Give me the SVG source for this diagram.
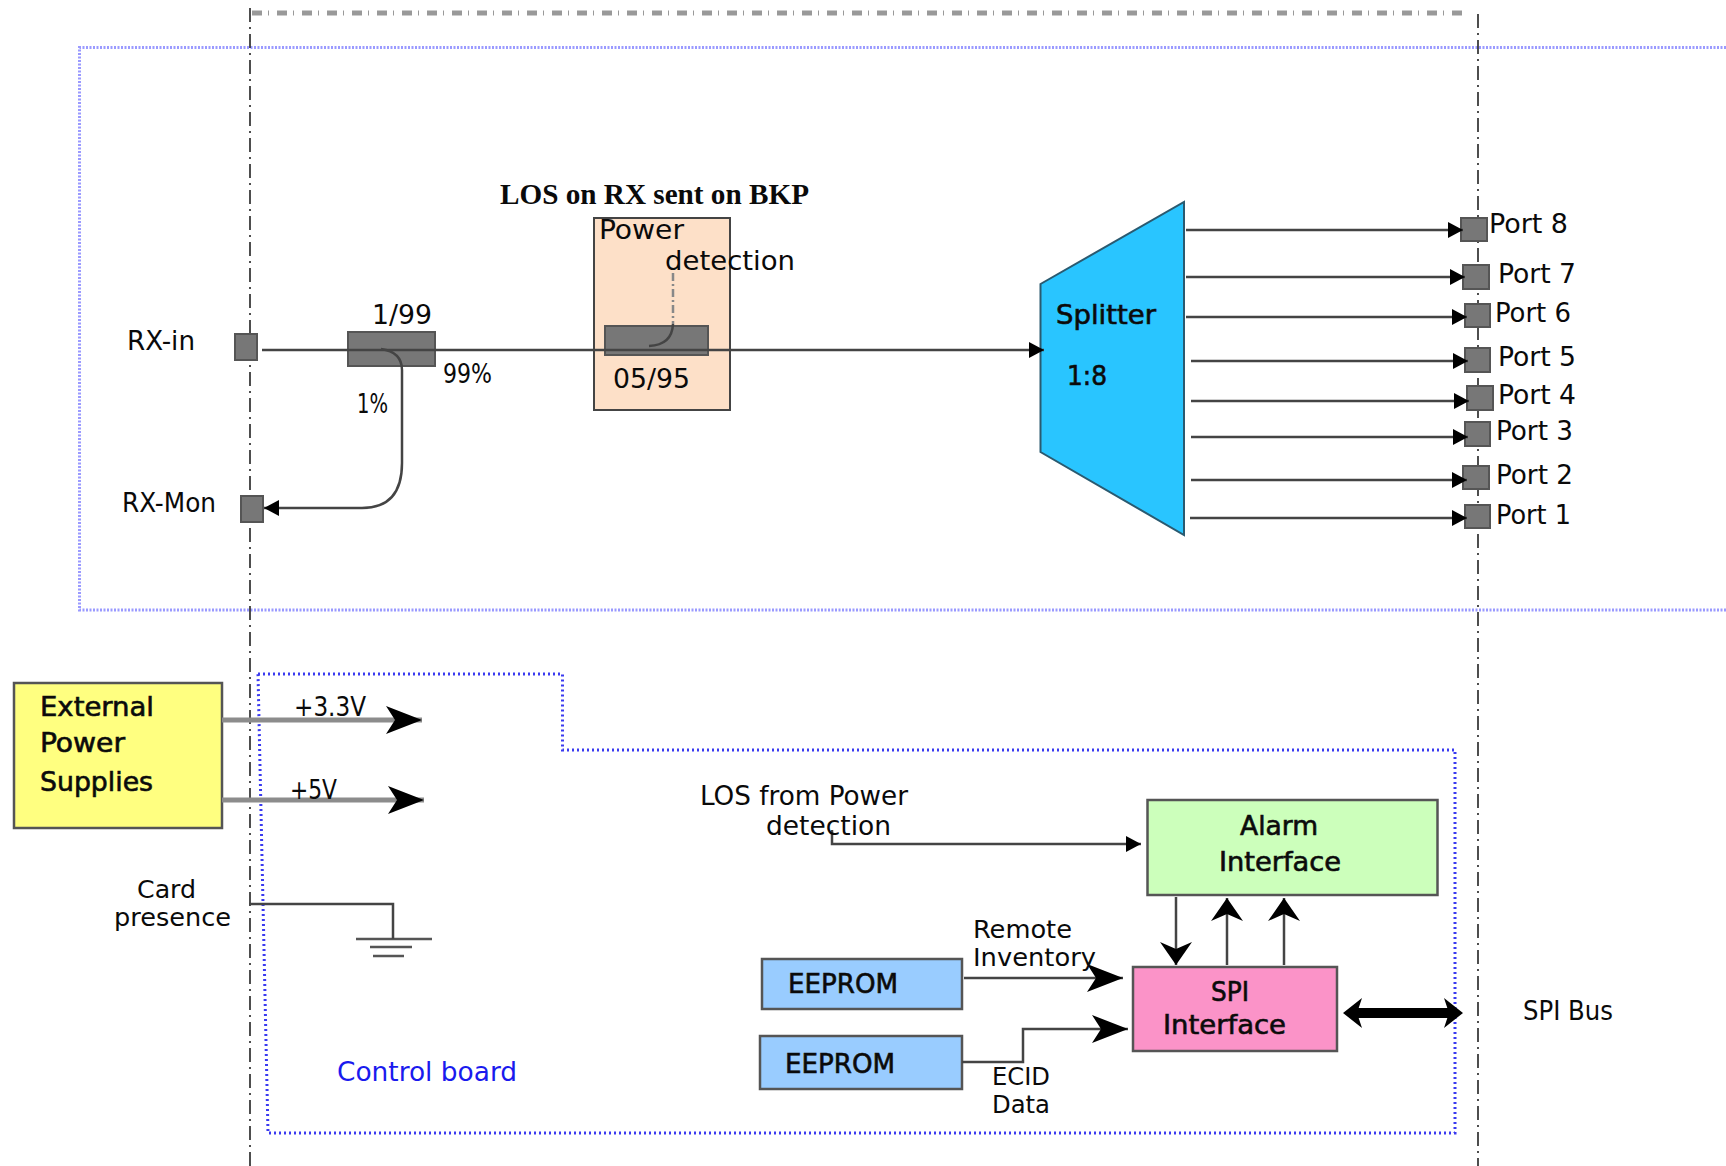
<svg xmlns="http://www.w3.org/2000/svg" width="1726" height="1166" viewBox="0 0 1726 1166">
<style>
text{font-family:"DejaVu Sans","Liberation Sans",sans-serif;font-size:27px;fill:#0a0a0a;font-stretch:condensed}
.b{stroke:#111;stroke-width:.6px}
.n{font-size:24px}
.s{font-family:"Liberation Serif",serif;font-weight:bold;font-size:29px;font-stretch:normal}
.blue{fill:#1a1aee}
.v{fill:none;stroke:#222;stroke-width:1.6;stroke-dasharray:14 5 2 5}
.sq{fill:#777;stroke:#555;stroke-width:2}
.l{fill:none;stroke:#444;stroke-width:2.5}
.t{fill:none;stroke:#8c8c8c;stroke-width:5}
.box{stroke:#555;stroke-width:2.5}
</style>
<defs>
<marker id="tri" markerUnits="userSpaceOnUse" markerWidth="16" markerHeight="18" refX="15" refY="9" orient="auto"><path d="M0 1L15 9L0 17Z" fill="#000"/></marker>
<marker id="st" markerUnits="userSpaceOnUse" markerWidth="38" markerHeight="30" refX="36" refY="15" orient="auto"><path d="M0 1L36 15L0 29L9 15Z" fill="#000"/></marker>
<marker id="st2" markerUnits="userSpaceOnUse" markerWidth="24" markerHeight="34" refX="23" refY="17" orient="auto"><path d="M0 1L23 17L0 33L7 17Z" fill="#000"/></marker>
</defs>

<g id="frames">
<path d="M252 13H1464" fill="none" stroke="#999" stroke-width="5" stroke-dasharray="10 6 1 8"/>
<path d="M1726 47.5H79.5V610H1726" fill="none" stroke="#9a9aff" stroke-width="3" stroke-dasharray="2 1.5"/>
<path d="M258 674H562.5V750H1455V1133H268Z" fill="none" stroke="#3a3af0" stroke-width="3" stroke-dasharray="2 3"/>
<path class="v" d="M250 8V1166"/>
<path class="v" d="M1478 14V1166"/>
</g>

<g id="power-detection">
<rect x="594" y="218" width="136" height="192" fill="#fde0c8" stroke="#444" stroke-width="2"/>
<rect x="605" y="326" width="103" height="29" class="sq"/>
<text x="599" y="239" textLength="85" lengthAdjust="spacingAndGlyphs">Power</text>
<text x="665" y="270" textLength="130" lengthAdjust="spacingAndGlyphs">detection</text>
<text x="613" y="388" textLength="77" lengthAdjust="spacingAndGlyphs">05/95</text>
</g>
<g id="los-label"><text class="s" x="500" y="204" textLength="309" lengthAdjust="spacingAndGlyphs">LOS on RX sent on BKP</text></g>

<g id="rx-in"><rect x="235" y="334" width="22" height="26" class="sq"/><text x="127" y="350" textLength="68" lengthAdjust="spacingAndGlyphs">RX-in</text></g>
<g id="rx-mon"><rect x="241" y="496" width="22" height="26" class="sq"/><text x="122" y="512" textLength="94" lengthAdjust="spacingAndGlyphs">RX-Mon</text></g>
<g id="coupler"><rect x="348" y="332" width="87" height="34" class="sq"/>
<text x="372" y="324" textLength="60" lengthAdjust="spacingAndGlyphs">1/99</text>
<text x="443" y="383" textLength="49" lengthAdjust="spacingAndGlyphs">99%</text>
<text x="357" y="413" textLength="31" lengthAdjust="spacingAndGlyphs">1%</text></g>

<g id="splitter"><path d="M1040.5 284L1184 202V535L1040.5 452Z" fill="#29c5ff" stroke="#2a5a70" stroke-width="2"/>
<text class="b" x="1056" y="324" textLength="100" lengthAdjust="spacingAndGlyphs">Splitter</text>
<text class="b" x="1067" y="385" textLength="40" lengthAdjust="spacingAndGlyphs">1:8</text></g>

<g id="port-8"><rect x="1461" y="218" width="26" height="23" class="sq"/><text x="1489" y="233" textLength="79" lengthAdjust="spacingAndGlyphs">Port 8</text></g>
<g id="port-7"><rect x="1463" y="265" width="26" height="24" class="sq"/><text x="1498" y="283" textLength="78" lengthAdjust="spacingAndGlyphs">Port 7</text></g>
<g id="port-6"><rect x="1465" y="304" width="25" height="23" class="sq"/><text x="1495" y="322" textLength="76" lengthAdjust="spacingAndGlyphs">Port 6</text></g>
<g id="port-5"><rect x="1465" y="348" width="25" height="24" class="sq"/><text x="1498" y="366" textLength="78" lengthAdjust="spacingAndGlyphs">Port 5</text></g>
<g id="port-4"><rect x="1467" y="386" width="26" height="24" class="sq"/><text x="1498" y="404" textLength="78" lengthAdjust="spacingAndGlyphs">Port 4</text></g>
<g id="port-3"><rect x="1465" y="422" width="25" height="24" class="sq"/><text x="1496" y="440" textLength="77" lengthAdjust="spacingAndGlyphs">Port 3</text></g>
<g id="port-2"><rect x="1463" y="466" width="26" height="23" class="sq"/><text x="1496" y="484" textLength="77" lengthAdjust="spacingAndGlyphs">Port 2</text></g>
<g id="port-1"><rect x="1465" y="505" width="25" height="23" class="sq"/><text x="1496" y="524" textLength="75" lengthAdjust="spacingAndGlyphs">Port 1</text></g>

<g id="external-power"><rect x="14" y="683" width="208" height="145" fill="#ffff80" class="box"/>
<text class="b" x="40" y="716" textLength="114" lengthAdjust="spacingAndGlyphs">External</text>
<text class="b" x="40" y="752" textLength="85" lengthAdjust="spacingAndGlyphs">Power</text>
<text class="b" x="40" y="791" textLength="113" lengthAdjust="spacingAndGlyphs">Supplies</text></g>

<g id="card-presence">
<text class="n" x="137" y="898" textLength="59" lengthAdjust="spacingAndGlyphs">Card</text>
<text class="n" x="114" y="926" textLength="117" lengthAdjust="spacingAndGlyphs">presence</text>
<path d="M356 939H432M370 947H412M373 956H404" fill="none" stroke="#555" stroke-width="2.5"/>
</g>

<g id="control-board-label"><text class="blue" x="337" y="1081" textLength="180" lengthAdjust="spacingAndGlyphs">Control board</text></g>

<g id="alarm-interface"><rect x="1147.5" y="800" width="290" height="95" fill="#ccffbb" class="box"/>
<text class="b" x="1240" y="835" textLength="78" lengthAdjust="spacingAndGlyphs">Alarm</text>
<text class="b" x="1219" y="871" textLength="122" lengthAdjust="spacingAndGlyphs">Interface</text></g>
<g id="spi-interface"><rect x="1133" y="967" width="204" height="84" fill="#fb93c8" class="box"/>
<text class="b" x="1211" y="1001" textLength="38" lengthAdjust="spacingAndGlyphs">SPI</text>
<text class="b" x="1163" y="1034" textLength="123" lengthAdjust="spacingAndGlyphs">Interface</text></g>
<g id="eeprom-1"><rect x="762" y="959" width="200" height="50" fill="#99ccff" class="box"/><text class="b" x="788" y="993" textLength="110" lengthAdjust="spacingAndGlyphs">EEPROM</text></g>
<g id="eeprom-2"><rect x="760" y="1036" width="202" height="53" fill="#99ccff" class="box"/><text class="b" x="785" y="1073" textLength="110" lengthAdjust="spacingAndGlyphs">EEPROM</text></g>

<g id="connectors">
<path class="l" d="M262 350H1044" marker-end="url(#tri)"/>
<path class="l" d="M381 349Q402 352 402 370V463Q402 508 362 508H264" marker-end="url(#tri)"/>
<path d="M673 273V324" fill="none" stroke="#888" stroke-width="2.5" stroke-dasharray="8 3 2 3"/>
<path class="l" d="M673 324Q672 345 649 346"/>
<path class="l" d="M1186 230H1463" marker-end="url(#tri)"/>
<path class="l" d="M1186 277H1465" marker-end="url(#tri)"/>
<path class="l" d="M1186 317H1467" marker-end="url(#tri)"/>
<path class="l" d="M1191 361H1468" marker-end="url(#tri)"/>
<path class="l" d="M1191 401H1469" marker-end="url(#tri)"/>
<path class="l" d="M1191 437H1468" marker-end="url(#tri)"/>
<path class="l" d="M1191 480H1467" marker-end="url(#tri)"/>
<path class="l" d="M1190 518H1467" marker-end="url(#tri)"/>
<path class="t" d="M222 720H422" marker-end="url(#st)"/>
<path class="t" d="M222 800H424" marker-end="url(#st)"/>
<path class="l" d="M249 904H393V939"/>
<path class="l" d="M832 830V844H1141" marker-end="url(#tri)"/>
<path class="l" d="M1176 897V965" marker-end="url(#st2)"/>
<path class="l" d="M1227 965V898" marker-end="url(#st2)"/>
<path class="l" d="M1284 965V898" marker-end="url(#st2)"/>
<path class="l" d="M964 978H1123" marker-end="url(#st)"/>
<path class="l" d="M962 1062H1023V1029H1128" marker-end="url(#st)"/>
<path d="M1350 1013H1456" stroke="#000" stroke-width="10" fill="none"/>
<path d="M1343 1013L1362 998L1357 1013L1362 1028ZM1463 1013L1444 998L1449 1013L1444 1028Z" fill="#000"/>
</g>

<g id="labels">
<text x="294" y="716" textLength="72" lengthAdjust="spacingAndGlyphs">+3.3V</text>
<text x="290" y="799" textLength="47" lengthAdjust="spacingAndGlyphs">+5V</text>
<text x="700" y="805" textLength="208" lengthAdjust="spacingAndGlyphs">LOS from Power</text>
<text x="766" y="835" textLength="125" lengthAdjust="spacingAndGlyphs">detection</text>
<text class="n" x="973" y="938" textLength="99" lengthAdjust="spacingAndGlyphs">Remote</text>
<text class="n" x="973" y="966" textLength="123" lengthAdjust="spacingAndGlyphs">Inventory</text>
<text class="n" x="992" y="1085" textLength="58" lengthAdjust="spacingAndGlyphs">ECID</text>
<text class="n" x="992" y="1113" textLength="58" lengthAdjust="spacingAndGlyphs">Data</text>
<text x="1523" y="1020" textLength="90" lengthAdjust="spacingAndGlyphs">SPI Bus</text>
</g>
</svg>
